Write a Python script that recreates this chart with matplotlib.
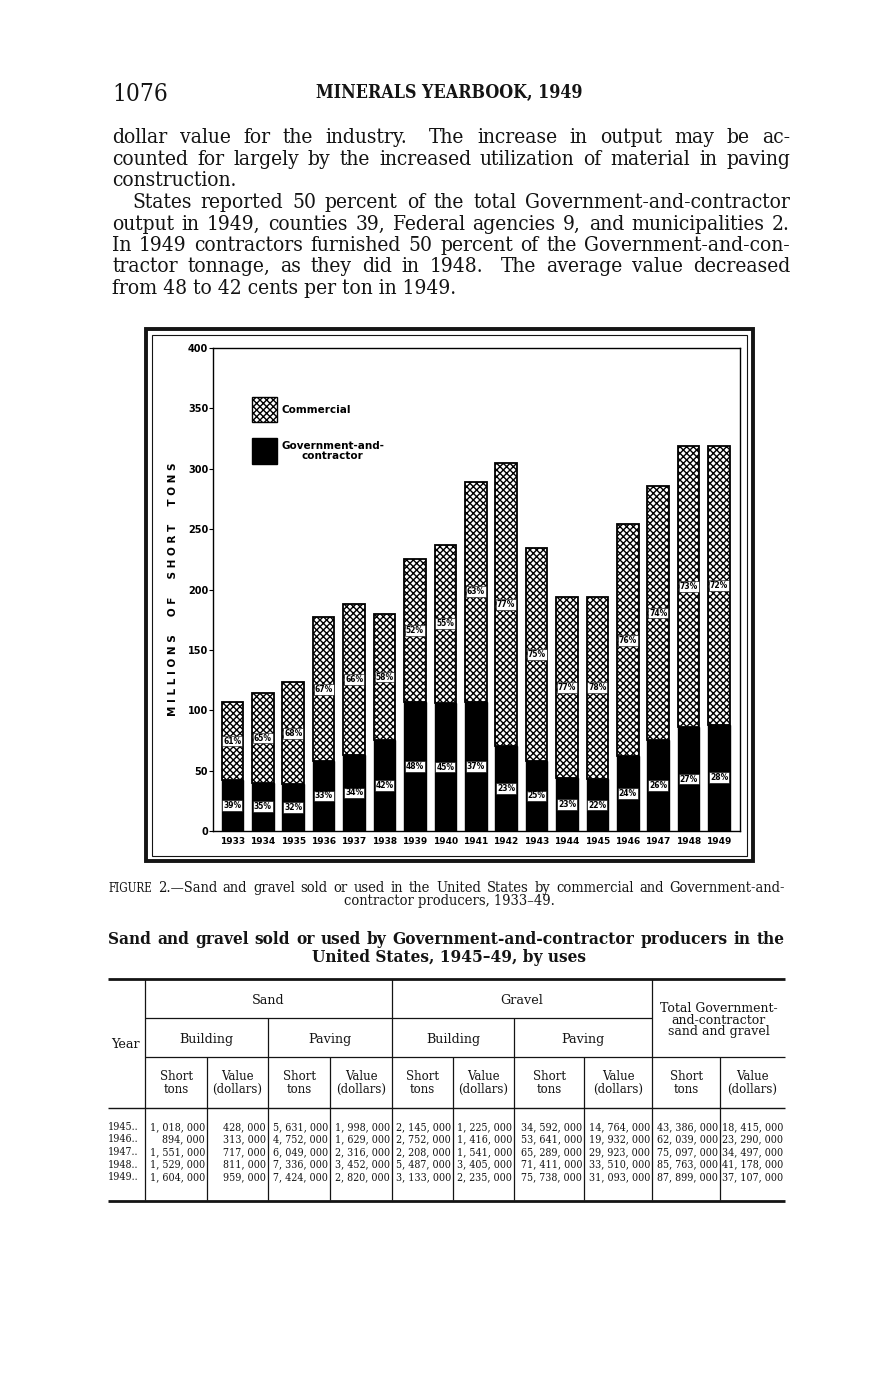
import numpy as np
import matplotlib
matplotlib.use("Agg")
import matplotlib.pyplot as plt
from matplotlib.patches import Rectangle

# chart data (millions of short tons)
years = list(range(1933, 1950))
total = [107, 114, 123, 177, 188, 180, 225, 237, 289, 305, 234, 194, 194, 254, 286, 319, 319]
gov = [42, 40, 39, 58, 63, 75, 107, 106, 107, 70, 58, 44, 43, 62, 75, 86, 88]
comm_pct = [61, 65, 68, 67, 66, 58, 52, 55, 63, 77, 75, 77, 78, 76, 74, 73, 72]
gov_pct = [39, 35, 32, 33, 34, 42, 48, 45, 37, 23, 25, 23, 22, 24, 26, 27, 28]

# table data
table_years = ["1945", "1946", "1947", "1948", "1949"]
sand_bld_tons = [1018000, 894000, 1551000, 1529000, 1604000]
sand_bld_val = [428000, 313000, 717000, 811000, 959000]
sand_pav_tons = [5631000, 4752000, 6049000, 7336000, 7424000]
sand_pav_val = [1998000, 1629000, 2316000, 3452000, 2820000]
grav_bld_tons = [2145000, 2752000, 2208000, 5487000, 3133000]
grav_bld_val = [1225000, 1416000, 1541000, 3405000, 2235000]
grav_pav_tons = [34592000, 53641000, 65289000, 71411000, 75738000]
grav_pav_val = [14764000, 19932000, 29923000, 33510000, 31093000]
total_tons = [43386000, 62039000, 75097000, 85763000, 87899000]
total_val = [18415000, 23290000, 34497000, 41178000, 37107000]

para1 = ["dollar value for the industry.  The increase in output may be ac-",
         "counted for largely by the increased utilization of material in paving",
         "construction."]
para2 = ["States reported 50 percent of the total Government-and-contractor",
         "output in 1949, counties 39, Federal agencies 9, and municipalities 2.",
         "In 1949 contractors furnished 50 percent of the Government-and-con-",
         "tractor tonnage, as they did in 1948.  The average value decreased",
         "from 48 to 42 cents per ton in 1949."]

W, H = 872, 1380
SERIF = "DejaVu Serif"
STRETCH = "condensed"
INK = "#141414"

fig = plt.figure(figsize=(W / 100, H / 100), dpi=100)
page = fig.add_axes([0, 0, 1, 1])
page.set_xlim(0, W)
page.set_ylim(H, 0)
page.axis("off")
renderer = fig.canvas.get_renderer()


def width(s, fs, weight="normal"):
    t = page.text(0, 0, s, fontsize=fs, family=SERIF, weight=weight, stretch=STRETCH)
    w = t.get_window_extent(renderer).width
    t.remove()
    return w


def fit(lines, span, fs, weight="normal"):
    widest = max(width(l, fs, weight) for l in lines)
    return fs * min(1.0, span / widest * 0.985)


def justify(line, x0, x1, y, fs, weight="normal", small=()):
    words = line.split()
    sizes = [fs * 0.8 if w in small else fs for w in words]
    ws = [width(w, s, weight) for w, s in zip(words, sizes)]
    gaps = [1.8 if w.endswith(".") else 1.0 for w in words[:-1]]
    extra = (x1 - x0 - sum(ws)) / sum(gaps)
    x = x0
    for i, w in enumerate(words):
        page.text(x, y, w, fontsize=sizes[i], family=SERIF, weight=weight,
                  stretch=STRETCH, va="baseline", color=INK)
        if i < len(gaps):
            x += ws[i] + extra * gaps[i]


def plain(s, x, y, fs, weight="normal", ha="left"):
    page.text(x, y, s, fontsize=fs, family=SERIF, weight=weight, stretch=STRETCH,
              va="baseline", ha=ha, color=INK)


# page heading
plain("1076", 112, 101, 17.5)
fs_h = fit(["MINERALS YEARBOOK, 1949"], 272, 14, "bold")
plain("MINERALS YEARBOOK, 1949", 449, 98, fs_h, "bold", ha="center")

# body text
fs_b = fit(para1[:2] + para2[1:4], 678, 15.5)
fs_b = min(fs_b, fit([para2[0]], 658, 15.5))
base = [143, 165, 186]
justify(para1[0], 112, 790, base[0], fs_b)
justify(para1[1], 112, 790, base[1], fs_b)
plain(para1[2], 112, base[2], fs_b)
base2 = [208, 230, 251, 272, 294]
justify(para2[0], 132, 790, base2[0], fs_b)
for i in (1, 2, 3):
    justify(para2[i], 112, 790, base2[i], fs_b)
plain(para2[4], 112, base2[4], fs_b)

# chart frame
page.add_patch(Rectangle((146, 329), 607, 532, fill=False, lw=2.8, ec=INK))
page.add_patch(Rectangle((152, 335), 595, 521, fill=False, lw=0.8, ec=INK))

# chart
plt.rcParams["hatch.linewidth"] = 1.0
ax = fig.add_axes([213 / W, 1 - 831 / H, 527 / W, 483 / H])
x = np.arange(len(years))
comm = [t - g for t, g in zip(total, gov)]
ax.bar(x, gov, width=0.71, color="black", edgecolor="black", lw=1.0)
ax.bar(x, comm, bottom=gov, width=0.71, facecolor="white", edgecolor="black",
       hatch="xxxxx", lw=1.3)
for i in range(len(years)):
    ax.text(x[i], gov[i] + comm[i] / 2, f"{comm_pct[i]}%", ha="center", va="center",
            fontsize=5.5, weight="bold",
            bbox=dict(boxstyle="square,pad=0.12", fc="white", ec="black", lw=0.4))
    ax.text(x[i], gov[i] / 2, f"{gov_pct[i]}%", ha="center", va="center",
            fontsize=5.5, weight="bold",
            bbox=dict(boxstyle="square,pad=0.12", fc="white", ec="black", lw=0.4))
ax.set_xlim(-0.64, 16.69)
ax.set_ylim(0, 400)
ax.set_yticks(range(0, 401, 50))
ax.set_xticks(x, [str(y) for y in years])
ax.tick_params(axis="y", direction="out", length=3, width=0.8, pad=0.5, labelsize=7)
ax.tick_params(axis="x", length=0, pad=4, labelsize=6.5)
for lab in ax.get_xticklabels() + ax.get_yticklabels():
    lab.set_fontweight("bold")
for sp in ax.spines.values():
    sp.set_linewidth(1.0)
label = "     ".join(" ".join(w) for w in "MILLIONS OF SHORT TONS".split())
ax.set_ylabel(label, fontsize=7.5, weight="bold")
ax.yaxis.set_label_coords(-0.066, 0.5)

# legend, drawn by hand like the original
ax.add_patch(Rectangle(((252 - 213) / 527, (831 - 422) / 483), 25 / 527, 25 / 483,
                       transform=ax.transAxes, facecolor="white", edgecolor="black",
                       hatch="xxxxx", lw=1.0))
ax.add_patch(Rectangle(((252 - 213) / 527, (831 - 464) / 483), 25 / 527, 26 / 483,
                       transform=ax.transAxes, facecolor="black", edgecolor="black"))
ax.text((281 - 213) / 527, (831 - 410) / 483, "Commercial", transform=ax.transAxes,
        fontsize=7.5, weight="bold", va="center")
ax.text((281 - 213) / 527, (831 - 451) / 483, "Government-and-\ncontractor",
        transform=ax.transAxes, fontsize=7.5, weight="bold", va="center",
        multialignment="center", linespacing=1.0)

# figure caption
cap1 = "FIGURE 2.—Sand and gravel sold or used in the United States by commercial and Government-and-"
fs_c = fit([cap1], 677, 10.5)
justify(cap1, 108, 785, 892, fs_c, small=("FIGURE",))
plain("contractor producers, 1933–49.", 449, 905, fs_c, ha="center")

# table title
tt1 = "Sand and gravel sold or used by Government-and-contractor producers in the"
fs_t = fit([tt1], 677, 13, "bold")
justify(tt1, 108, 785, 944, fs_t, "bold")
plain("United States, 1945–49, by uses", 449, 962, fs_t, "bold", ha="center")

# table rules
L, R = 108, 785
page.hlines([979, 1201], L, R, color=INK, lw=2.0)
page.hlines(1108, L, R, color=INK, lw=1.0)
page.hlines(1057, 145, R, color=INK, lw=0.9)
page.hlines(1018, 145, 652, color=INK, lw=0.9)
page.vlines([145, 392, 652], 979, 1200, color=INK, lw=0.9)
page.vlines([268, 514], 1018, 1200, color=INK, lw=0.9)
page.vlines([207, 330, 453, 584, 720], 1057, 1200, color=INK, lw=0.9)


def ctext(s, x, y, fs, **kw):
    page.text(x, y, s, fontsize=fs, family=SERIF, ha="center", va="center",
              color=INK, **kw)


ctext("Year", 125, 1044, 9.2)
ctext("Sand", 268.5, 1000, 9.2)
ctext("Gravel", 522, 1001, 9.2)
for cx, s in [(206.5, "Building"), (330, "Paving"), (453, "Building"), (583, "Paving")]:
    ctext(s, cx, 1039, 9.2)
ctext("Total Government-\nand-contractor\nsand and gravel", 718.5, 1020, 9.0,
      linespacing=0.9)
col_edges = [145, 207, 268, 330, 392, 453, 514, 584, 652, 720, 785]
for j in range(10):
    cx = (col_edges[j] + col_edges[j + 1]) / 2
    s = "Short\ntons" if j % 2 == 0 else "Value\n(dollars)"
    ctext(s, cx, 1083, 8.5, linespacing=0.95)

columns = [sand_bld_tons, sand_bld_val, sand_pav_tons, sand_pav_val,
           grav_bld_tons, grav_bld_val, grav_pav_tons, grav_pav_val,
           total_tons, total_val]
fs_d = fit(["34, 592, 000"], 62, 8.5)
for i, yr in enumerate(table_years):
    y = 1127 + 12.5 * i
    page.text(108, y, yr + "..", fontsize=fs_d, family=SERIF, stretch=STRETCH,
              va="center", color=INK)
    for j, col in enumerate(columns):
        s = f"{col[i]:,}".replace(",", ", ")
        page.text(col_edges[j + 1] - 2, y, s, fontsize=fs_d, family=SERIF,
                  stretch=STRETCH, ha="right", va="center", color=INK)

fig.savefig("out.png", dpi=100)
